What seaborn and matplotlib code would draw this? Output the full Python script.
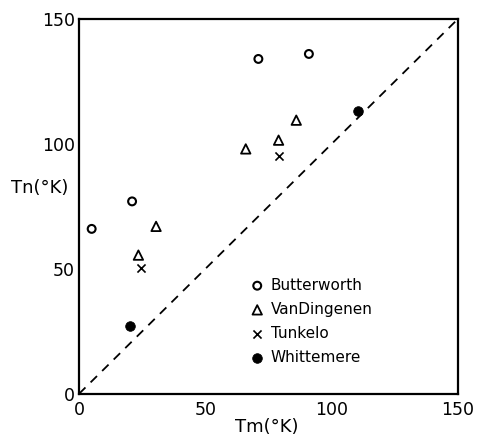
import matplotlib
matplotlib.use("Agg")
import matplotlib.pyplot as plt
import seaborn as sns
import pandas as pd

sns.set_theme(style="white")
plt.rcParams['font.family'] = ['DejaVu Sans']
plt.rcParams['text.color'] = 'black'

butter_x = [5, 21, 71, 91]
butter_y = [66, 77, 134, 136]
vand_x = [23.5, 30.5, 66, 79, 86]
vand_y = [55.5, 67, 98, 101.5, 109.5]
tunk_x = [24.5, 79]
tunk_y = [50.5, 95]
whit_x = [20, 110.5]
whit_y = [27, 113]
ticks = [0, 50, 100, 150]
tick_labels = ["0", "50", "100", "150"]

series = [
    ("Butterworth", butter_x, butter_y, dict(marker="o", s=32, facecolor="none", edgecolor="black", linewidth=1.5)),
    ("VanDingenen", vand_x, vand_y, dict(marker="^", s=46, facecolor="none", edgecolor="black", linewidth=1.3)),
    ("Tunkelo", tunk_x, tunk_y, dict(marker="x", s=34, color="black", linewidth=1.2)),
    ("Whittemere", whit_x, whit_y, dict(marker="o", s=48, color="black", edgecolor="black")),
]

fig = plt.figure(figsize=(4.79, 4.41), dpi=100)
ax = fig.add_axes([0.165, 0.107, 0.791, 0.850])

ax.plot([0, 150], [0, 150], linestyle=(0, (5, 4)), color="black", linewidth=1.3, zorder=1)

for name, xs, ys, kw in series:
    df = pd.DataFrame({"x": xs, "y": ys})
    sns.scatterplot(data=df, x="x", y="y", ax=ax, label=name, zorder=3, **kw)

ax.set_xlim(0, 150)
ax.set_ylim(0, 150)
ax.set_xticks(ticks)
ax.set_xticklabels(tick_labels)
ax.set_yticks(ticks)
ax.set_yticklabels(tick_labels)
ax.tick_params(direction="in", length=8, width=1.3, colors="black", labelsize=12.5)
ax.tick_params(axis="y", pad=3)
ax.tick_params(axis="x", pad=5)
for sp in ax.spines.values():
    sp.set_color("black")
    sp.set_linewidth(1.6)

ax.set_xlabel("Tm(°K)", fontsize=13, color="black", va="center")
ax.set_ylabel("Tn(°K)", fontsize=13, color="black", rotation=0, ha="center", va="center")
ax.xaxis.set_label_coords(0.496, -0.088)
ax.yaxis.set_label_coords(-0.105, 0.55)

leg = ax.legend(loc="lower left", bbox_to_anchor=(0.43, 0.06), frameon=False,
                fontsize=11, handletextpad=0.3, labelspacing=0.6, handlelength=1.2,
                borderaxespad=0, labelcolor="black")

fig.savefig("out.png", dpi=100, facecolor="white")
